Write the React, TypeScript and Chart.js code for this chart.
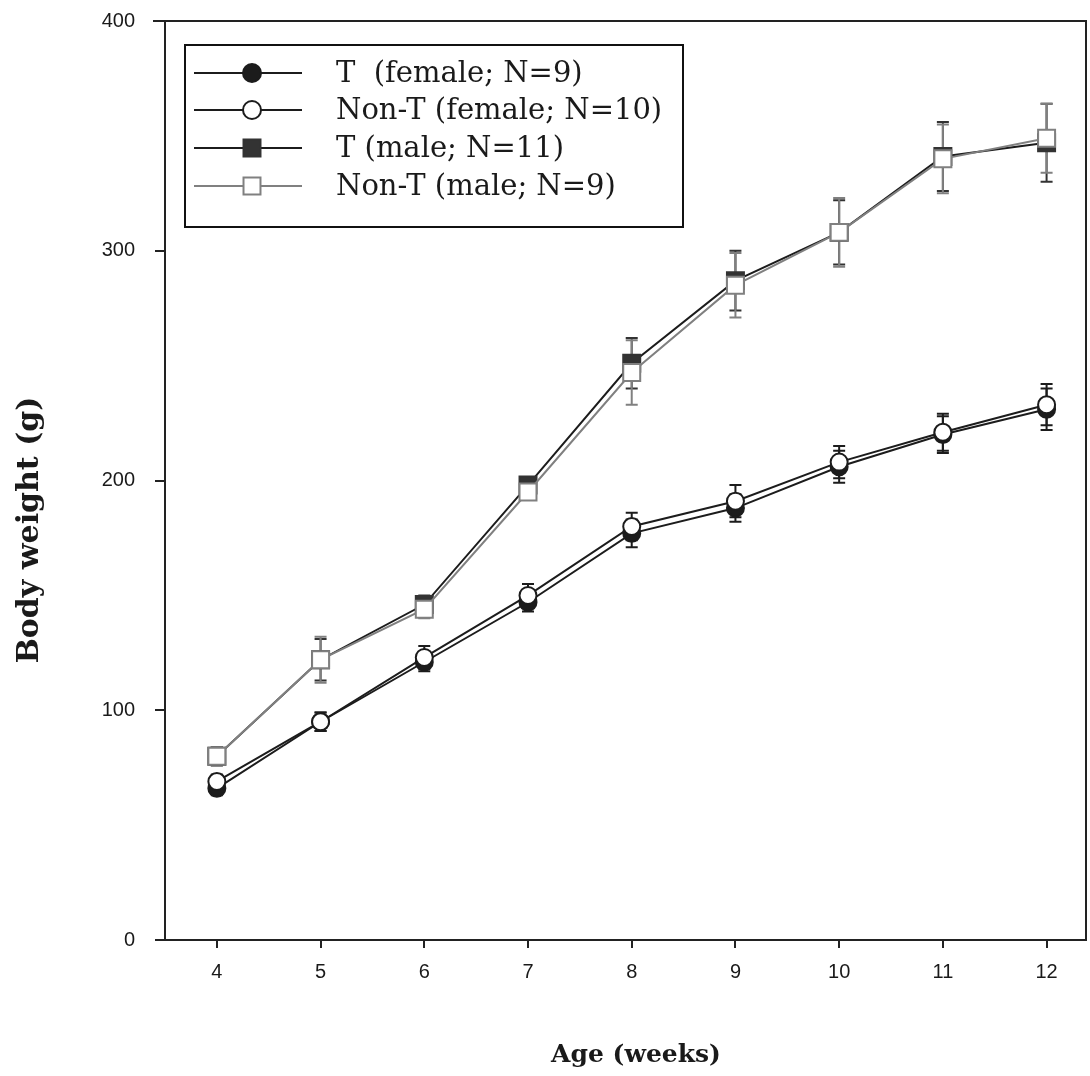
import React, { useEffect, useRef } from "react";
import { Chart, registerables } from "chart.js";

Chart.register(...registerables);

const weeks = [4, 5, 6, 7, 8, 9, 10, 11, 12];
const xTickValues = [4, 5, 6, 7, 8, 9, 10, 11, 12];
const yTickValues = [0, 100, 200, 300, 400];

const tFemale = [66, 95, 121, 147, 177, 188, 206, 220, 231];
const tFemaleErr = [3, 4, 4, 4, 6, 6, 7, 8, 9];
const nonTFemale = [69, 95, 123, 150, 180, 191, 208, 221, 233];
const nonTFemaleErr = [3, 4, 5, 5, 6, 7, 7, 8, 9];
const tMale = [80, 122, 146, 198, 251, 287, 308, 341, 347];
const tMaleErr = [4, 9, 4, 3, 11, 13, 14, 15, 17];
const nonTMale = [80, 122, 144, 195, 247, 285, 308, 340, 349];
const nonTMaleErr = [4, 10, 4, 3, 14, 14, 15, 15, 15];

const legendLabels = [
  "T  (female; N=9)",
  "Non-T (female; N=10)",
  "T (male; N=11)",
  "Non-T (male; N=9)",
];

const DARK = "#1c1c1c";
const GRAY = "#808080";

const seriesDefs = [
  { label: legendLabels[0], values: tFemale, err: tFemaleErr, line: DARK, fill: DARK, border: DARK, style: "circle", radius: 8.5, order: 3 },
  { label: legendLabels[1], values: nonTFemale, err: nonTFemaleErr, line: DARK, fill: "#ffffff", border: DARK, style: "circle", radius: 8.5, order: 1 },
  { label: legendLabels[2], values: tMale, err: tMaleErr, line: DARK, fill: "#333333", border: "#333333", style: "rect", radius: 12, order: 2 },
  { label: legendLabels[3], values: nonTMale, err: nonTMaleErr, line: GRAY, fill: "#ffffff", border: GRAY, style: "rect", radius: 12, order: 0 },
];

function drawMarker(ctx: CanvasRenderingContext2D, s: any, x: number, y: number) {
  ctx.save();
  ctx.lineWidth = 2;
  ctx.fillStyle = s.fill;
  ctx.strokeStyle = s.border;
  ctx.beginPath();
  if (s.style === "circle") {
    ctx.arc(x, y, s.radius, 0, Math.PI * 2);
  } else {
    const h = s.radius / Math.SQRT2;
    ctx.rect(x - h, y - h, h * 2, h * 2);
  }
  ctx.fill();
  ctx.stroke();
  ctx.restore();
}

const errorBarsPlugin = {
  id: "errorBars",
  beforeDatasetsDraw(chart: any) {
    const ctx = chart.ctx;
    const xs = chart.scales.x;
    const ys = chart.scales.y;
    ctx.save();
    ctx.lineWidth = 2;
    seriesDefs.forEach((s) => {
      ctx.strokeStyle = s.border;
      s.values.forEach((v, i) => {
        const px = xs.getPixelForValue(weeks[i]);
        const top = ys.getPixelForValue(v + s.err[i]);
        const bot = ys.getPixelForValue(v - s.err[i]);
        ctx.beginPath();
        ctx.moveTo(px, top);
        ctx.lineTo(px, bot);
        ctx.moveTo(px - 6, top);
        ctx.lineTo(px + 6, top);
        ctx.moveTo(px - 6, bot);
        ctx.lineTo(px + 6, bot);
        ctx.stroke();
      });
    });
    ctx.restore();
  },
};

const framePlugin = {
  id: "frameAndText",
  afterDraw(chart: any) {
    const ctx = chart.ctx;
    const a = chart.chartArea;
    ctx.save();
    ctx.strokeStyle = "#222";
    ctx.lineWidth = 2;
    ctx.beginPath();
    ctx.moveTo(a.left - 12, a.top);
    ctx.lineTo(a.right, a.top);
    ctx.lineTo(a.right, a.bottom);
    ctx.stroke();

    // legend box
    const bx = 185, by = 45, bw = 498, bh = 182;
    ctx.lineWidth = 2;
    ctx.strokeStyle = "#111";
    ctx.strokeRect(bx, by, bw, bh);
    const rowY = [73, 110, 148, 186];
    ctx.font = "29px 'DejaVu Serif'";
    ctx.textBaseline = "middle";
    ctx.textAlign = "left";
    seriesDefs.forEach((s, i) => {
      const y = rowY[i];
      ctx.strokeStyle = s.line;
      ctx.lineWidth = 2;
      ctx.beginPath();
      ctx.moveTo(194, y);
      ctx.lineTo(302, y);
      ctx.stroke();
      drawMarker(ctx, { ...s, radius: s.style === "circle" ? 9 : 12 }, 252, y);
      ctx.fillStyle = "#1a1a1a";
      ctx.fillText(s.label, 336, y + 1);
    });

    // axis titles
    ctx.fillStyle = "#1a1a1a";
    ctx.font = "bold 25px 'DejaVu Serif'";
    ctx.textAlign = "center";
    ctx.textBaseline = "middle";
    ctx.fillText("Age (weeks)", 636, 1055);
    ctx.font = "bold 30px 'DejaVu Serif'";
    ctx.translate(30, 530);
    ctx.rotate(-Math.PI / 2);
    ctx.fillText("Body weight (g)", 0, 0);
    ctx.restore();
  },
};

export default function App() {
  const ref = useRef<HTMLCanvasElement | null>(null);
  useEffect(() => {
    if (!ref.current) return;
    const chart = new Chart(ref.current, {
      type: "line",
      data: {
        datasets: seriesDefs.map((s) => ({
          label: s.label,
          data: s.values.map((v, i) => ({ x: weeks[i], y: v })),
          borderColor: s.line,
          backgroundColor: s.fill,
          borderWidth: 2,
          pointStyle: s.style as any,
          pointRadius: s.radius,
          pointBackgroundColor: s.fill,
          pointBorderColor: s.border,
          pointBorderWidth: 2,
          tension: 0,
          order: s.order,
        })),
      },
      options: {
        animation: false,
        responsive: false,
        devicePixelRatio: 1,
        layout: { padding: { top: 21, right: 4, left: 0, bottom: 0 } },
        plugins: { legend: { display: false }, tooltip: { enabled: false } },
        scales: {
          x: {
            type: "linear",
            min: 3.5,
            max: 12.38,
            afterBuildTicks: (scale: any) => {
              scale.ticks = xTickValues.map((v) => ({ value: v }));
            },
            afterFit: (scale: any) => {
              scale.height = 136;
              scale.paddingLeft = 0;
              scale.paddingRight = 0;
            },
            border: { display: true, color: "#222", width: 2 },
            grid: { drawOnChartArea: false, drawTicks: true, tickLength: 8, color: "#222", lineWidth: 2 },
            ticks: {
              color: "#1a1a1a",
              font: { family: "'Liberation Sans'", size: 20 },
              padding: 12,
              maxRotation: 0,
              autoSkip: false,
              callback: (v: any) => String(v),
            },
          },
          y: {
            type: "linear",
            min: 0,
            max: 400,
            afterBuildTicks: (scale: any) => {
              scale.ticks = yTickValues.map((v) => ({ value: v }));
            },
            afterFit: (scale: any) => {
              scale.width = 165;
              scale.paddingTop = 0;
              scale.paddingBottom = 0;
            },
            border: { display: true, color: "#222", width: 2 },
            grid: { drawOnChartArea: false, drawTicks: true, tickLength: 10, color: "#222", lineWidth: 2 },
            ticks: {
              color: "#1a1a1a",
              font: { family: "'Liberation Sans'", size: 20 },
              padding: 20,
              autoSkip: false,
              callback: (v: any) => String(v),
            },
          },
        },
      },
      plugins: [errorBarsPlugin, framePlugin],
    });
    return () => chart.destroy();
  }, []);
  return (
    <div style={{ position: "absolute", left: 0, top: 0, width: 1090, height: 1076, overflow: "hidden", background: "#fff" }}>
      <canvas
        ref={ref}
        width={1100}
        height={1076}
        style={{ display: "block", width: 1100, height: 1076, background: "#fff" }}
      />
    </div>
  );
}
